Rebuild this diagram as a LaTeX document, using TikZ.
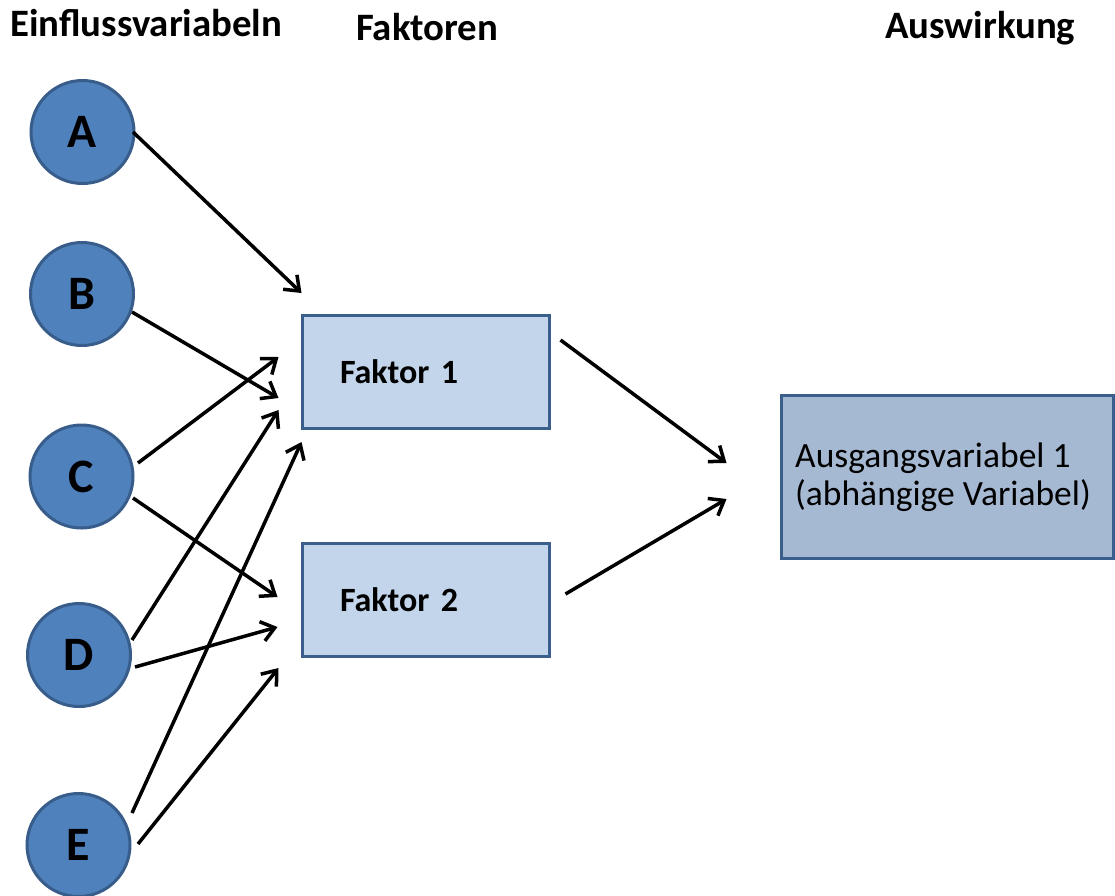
\documentclass[tikz,border=0pt]{standalone}
\usepackage{fontspec}
\setmainfont{Carlito}
\usetikzlibrary{arrows.meta}
\definecolor{circfill}{HTML}{4F81BD}
\definecolor{circline}{HTML}{385D8A}
\definecolor{facfill}{HTML}{C3D5EA}
\definecolor{outfill}{HTML}{A6B9D3}
\definecolor{boxline}{HTML}{3B5F8D}
\begin{document}
\begin{tikzpicture}[x=1pt,y=-1pt,
  header/.style={anchor=base west,inner sep=0pt,font=\fontsize{38.8}{46}\selectfont\bfseries},
  invar/.style={circle,draw=circline,line width=3pt,fill=circfill,minimum size=103pt,inner sep=0pt,
    font=\fontsize{48}{56}\selectfont\bfseries},
  factor/.style={rectangle,draw=boxline,line width=3pt,fill=facfill,minimum height=113pt,
    text width=171pt,inner xsep=38pt,inner ysep=0pt,align=left,font=\fontsize{34}{40}\selectfont\bfseries},
  outbox/.style={rectangle,draw=boxline,line width=3pt,fill=outfill,minimum width=332pt,minimum height=163pt,inner sep=0pt},
  outtext/.style={anchor=west,inner sep=0pt,align=left,font=\fontsize{35.5}{38.5}\selectfont},
  link/.style={draw=black,line width=3.5pt,-{Straight Barb[length=13pt,width=20pt]}}
]
\useasboundingbox (0,0) rectangle (1115,895);

% column headings
\node[header] (h1) at (10,36) {Einflussvariabeln};
\node[header] (h2) at (356,40.5) {Faktoren};
\node[header] (h3) at (885,38) {Auswirkung};

% influencing variables
\node[invar] (A) at (82.5,132) {A};
\node[invar] (B) at (82,294) {B};
\node[invar] (C) at (81.5,476.5) {C};
\node[invar] (D) at (79,655) {D};
\node[invar] (E) at (78.5,845) {E};

% factors
\node[factor] (F1) at (425.5,371.5) {Faktor 1};
\node[factor] (F2) at (425.5,599.5) {Faktor 2};

% outcome
\node[outbox] (Out) at (947,476.5) {};
\node[outtext] (OutT) at (795,477) {Ausgangsvariabel 1\\(abhängige Variabel)};

% variables -> factors
\draw[link] ([shift={(50.5,0)}]A.center) -- ([shift={(1,-78.5)}]F1.west);
\draw[link] ([shift={(50,18)}]B.center) -- ([shift={(-22,26.5)}]F1.west);
\draw[link] ([shift={(56.5,-13.5)}]C.center) -- ([shift={(-22,-14.5)}]F1.west);
\draw[link] ([shift={(51.5,21.5)}]C.center) -- ([shift={(-23,-2.5)}]F2.west);
\draw[link] ([shift={(53,-15)}]D.center) -- ([shift={(-22,38.5)}]F1.west);
\draw[link] ([shift={(56,12)}]D.center) -- ([shift={(-23,27.5)}]F2.west);
\draw[link] ([shift={(53.5,-32)}]E.center) -- ([shift={(1,70.5)}]F1.west);
\draw[link] ([shift={(59.5,-1)}]E.center) -- ([shift={(-22,68.5)}]F2.west);

% factors -> outcome
\draw[link] ([shift={(10,-31.5)}]F1.east) -- ([shift={(-53,-13.5)}]Out.west);
\draw[link] ([shift={(15,-5.5)}]F2.east) -- ([shift={(-53,22.5)}]Out.west);
\end{tikzpicture}
\end{document}
